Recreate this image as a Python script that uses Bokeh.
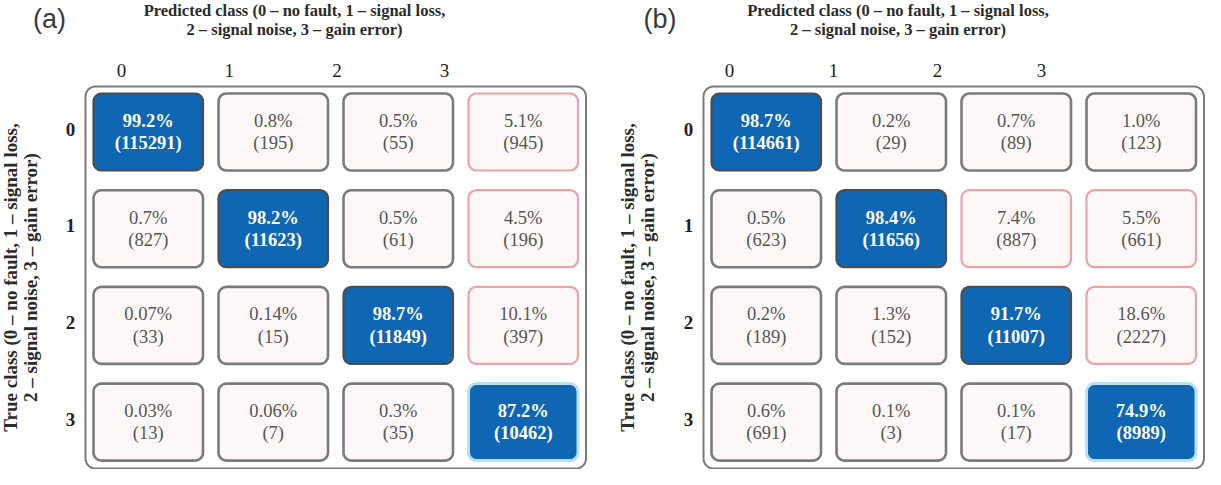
import math
from bokeh.plotting import figure
from bokeh.models import Range1d, ColumnDataSource
from bokeh.layouts import row
from bokeh.core.properties import value
from bokeh.embed import file_html
from bokeh.resources import INLINE

# ---------------- data ----------------
classes = ["0", "1", "2", "3"]
x_title = ["Predicted class (0 \u2013 no fault, 1 \u2013 signal loss,",
           "2 \u2013 signal noise, 3 \u2013 gain error)"]
y_title = ["True class (0 \u2013 no fault, 1 \u2013 signal loss,",
           "2 \u2013 signal noise, 3 \u2013 gain error)"]

a_pct = [["99.2", "0.8", "0.5", "5.1"],
         ["0.7", "98.2", "0.5", "4.5"],
         ["0.07", "0.14", "98.7", "10.1"],
         ["0.03", "0.06", "0.3", "87.2"]]
a_cnt = [[115291, 195, 55, 945],
         [827, 11623, 61, 196],
         [33, 15, 11849, 397],
         [13, 7, 35, 10462]]

b_pct = [["98.7", "0.2", "0.7", "1.0"],
         ["0.5", "98.4", "7.4", "5.5"],
         ["0.2", "1.3", "91.7", "18.6"],
         ["0.6", "0.1", "0.1", "74.9"]]
b_cnt = [[114661, 29, 89, 123],
         [623, 11656, 887, 661],
         [189, 152, 11007, 2227],
         [691, 3, 17, 8989]]

# ---------------- layout / style ----------------
H = 469
PX = 125.0   # px per column
PY = 96.7    # px per row
CW = 109.5   # cell width px
CH = 77.0    # cell height px
SERIF = value("Liberation Serif")

BLUE = "#0f66b2"
LIGHT = "#fdf8f7"
GREY_LINE = "#7b7b7b"
DARK_LINE = "#4d4d4d"
RED_LINE = "#eba3a8"
GLOW_LINE = "#b9dff3"
TXT_GREY = "#555555"


def rrect(cx, cy, hw, hh, r, n=7):
    """rounded rectangle outline: centre in data units, sizes in px"""
    xs, ys = [], []
    corners = [(hw - r, hh - r, 0), (-(hw - r), hh - r, 90),
               (-(hw - r), -(hh - r), 180), (hw - r, -(hh - r), 270)]
    for ox, oy, a0 in corners:
        for k in range(n):
            t = math.radians(a0 + 90.0 * k / (n - 1))
            xs.append(cx + (ox + r * math.cos(t)) / PX)
            ys.append(cy + (oy + r * math.sin(t)) / PY)
    return xs, ys


def panel(tag, pct, cnt, fig_left, fig_w, col0, row0, title_cx, lab_x0, lab_dx,
          rowlab_x, ytl_x, tag_x):
    # positions given in picture px; converted to this panel's data units
    fx = lambda px: (px - fig_left - col0) / PX
    fy = lambda py: (py - row0) / PY
    p = figure(width=fig_w, height=H,
               x_range=Range1d(fx(fig_left), fx(fig_left + fig_w)),
               y_range=Range1d(fy(H), fy(0)),
               output_backend="svg", toolbar_location=None,
               x_axis_location=None, y_axis_location=None, min_border=0)
    p.grid.visible = False
    p.outline_line_color = None

    # outer frame
    left = -CW / 2 / PX - 8 / PX
    right = 3 + CW / 2 / PX + 8 / PX
    top = -CH / 2 / PY - 7 / PY
    bottom = 3 + CH / 2 / PY + 8 / PY
    ox, oy = rrect((left + right) / 2, (top + bottom) / 2,
                   (right - left) * PX / 2, (bottom - top) * PY / 2, 10)
    p.patch(ox, oy, fill_color=None, line_color=GREY_LINE, line_width=2)

    xs, ys, fills, lines, lws, texts, tcol, tsty, cx, cy = ([] for _ in range(10))
    for i in range(4):
        for j in range(4):
            v = float(pct[i][j])
            sx, sy = rrect(j, i, CW / 2, CH / 2, 8)
            xs.append(sx)
            ys.append(sy)
            if i == j:
                fills.append(BLUE)
                lines.append(DARK_LINE if v >= 90 else GLOW_LINE)
                lws.append(2.2 if v >= 90 else 3)
                tcol.append("white")
                tsty.append("bold")
            else:
                fills.append(LIGHT)
                lines.append(RED_LINE if v >= 2 else GREY_LINE)
                lws.append(2.2 if v >= 2 else 2.6)
                tcol.append(TXT_GREY)
                tsty.append("normal")
            texts.append(f"{pct[i][j]}%\n({cnt[i][j]})")
            cx.append(j)
            cy.append(i)
    src = ColumnDataSource(dict(xs=xs, ys=ys, fill=fills, line=lines, lw=lws,
                                x=cx, y=cy, text=texts, tc=tcol, ts=tsty))
    p.patches("xs", "ys", source=src, fill_color="fill", line_color="line",
              line_width="lw")
    p.text("x", "y", text="text", source=src, text_color="tc",
           text_font_style="ts", text_font=SERIF, text_font_size="18.5px",
           text_align="center", text_baseline="middle", text_line_height=1.12)

    # column class labels
    p.text([fx(lab_x0 + k * lab_dx) for k in range(4)], [fy(70)] * 4,
           text=classes, text_font=SERIF, text_font_size="19px",
           text_color="#222222", text_align="center", text_baseline="middle")
    # row class labels
    p.text([fx(rowlab_x)] * 4, [k - 3 / PY for k in range(4)], text=classes,
           text_font=SERIF, text_font_size="19px", text_font_style="bold",
           text_color="#222222", text_align="center", text_baseline="middle")
    # x title (two lines)
    p.text([fx(title_cx)] * 2, [fy(10), fy(29)], text=x_title, text_font=SERIF,
           text_font_size="16.5px", text_font_style="bold", text_color="#2b2b2b",
           text_align="center", text_baseline="middle")
    # y title (two lines, rotated)
    p.text([fx(ytl_x), fx(ytl_x + 20)], [fy(277)] * 2, text=y_title,
           angle=math.pi / 2, text_font=SERIF, text_font_size="19px",
           text_font_style="bold", text_color="#2b2b2b",
           text_align="center", text_baseline="middle")
    # panel tag
    p.text([fx(tag_x)], [fy(18)], text=[tag], text_font=value("Liberation Sans"),
           text_font_size="27px", text_color="#3a3a3a",
           text_align="center", text_baseline="middle")
    return p


pa = panel("(a)", a_pct, a_cnt, 0, 600, 147.75, 131.5, 294, 121, 107.7, 70, 10, 49)
pb = panel("(b)", b_pct, b_cnt, 600, 605, 165.75, 131.5, 897.5, 729, 104, 688, 627, 659.5)

layout = row(pa, pb)
open("out.html", "w").write(file_html(layout, INLINE))
